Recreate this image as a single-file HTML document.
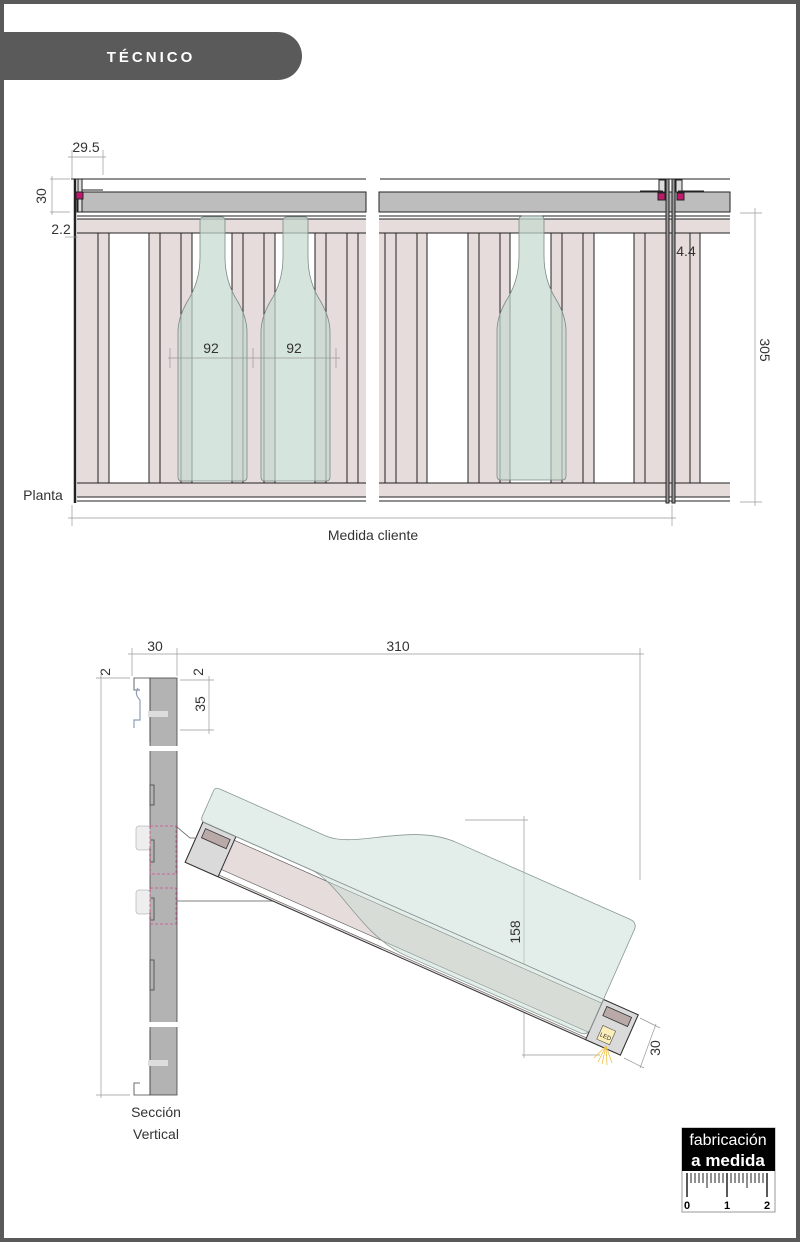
<!DOCTYPE html>
<html><head><meta charset="utf-8"><style>
html,body{margin:0;padding:0;background:#fff}
svg{display:block}
text{font-family:"Liberation Sans Narrow","Liberation Sans",sans-serif;fill:#333}
</style></head><body>
<svg width="800" height="1242" viewBox="0 0 800 1242" xmlns="http://www.w3.org/2000/svg">
<rect x="2" y="2" width="796" height="1238" fill="#fff" stroke="#5a5a5a" stroke-width="4"/>
<path d="M0 32 H278 A24 24 0 0 1 278 80 H0 Z" fill="#5a5a5a"/>
<text x="151" y="62" font-weight="bold" font-size="15" letter-spacing="3" text-anchor="middle" style="fill:#fff;font-family:'Liberation Sans',sans-serif">TÉCNICO</text>

<g stroke="#222" stroke-width="1">
<rect x="77" y="219" width="289" height="278" fill="#e6dcdb" stroke="none"/>
<g fill="#fff" stroke="none"><rect x="109" y="233" width="40" height="250"/><rect x="192" y="233" width="40" height="250"/><rect x="275" y="233" width="40" height="250"/></g>
<rect x="379" y="219" width="351" height="278" fill="#e6dcdb" stroke="none"/>
<g fill="#fff" stroke="none"><rect x="427" y="233" width="41" height="250"/><rect x="510" y="233" width="41" height="250"/><rect x="594" y="233" width="40" height="250"/><rect x="700" y="233" width="30" height="250"/></g>
<rect x="77" y="192" width="289" height="20" fill="#bdbdbd"/>
<rect x="379" y="192" width="351" height="20" fill="#bdbdbd"/>
<line x1="71" y1="179" x2="366" y2="179"/><line x1="380" y1="179" x2="730" y2="179"/>
<line x1="77" y1="216" x2="366" y2="216"/><line x1="379" y1="216" x2="730" y2="216"/>
<line x1="77" y1="219" x2="366" y2="219"/><line x1="379" y1="219" x2="730" y2="219"/>
<line x1="77" y1="233" x2="366" y2="233"/><line x1="379" y1="233" x2="730" y2="233"/>
<line x1="77" y1="483" x2="366" y2="483"/><line x1="379" y1="483" x2="730" y2="483"/>
<line x1="77" y1="497" x2="366" y2="497"/><line x1="379" y1="497" x2="730" y2="497"/>
<line x1="77" y1="501" x2="366" y2="501"/><line x1="379" y1="501" x2="730" y2="501"/>
<g>
<line x1="98" y1="233" x2="98" y2="483"/><line x1="109" y1="233" x2="109" y2="483"/><line x1="149" y1="233" x2="149" y2="483"/><line x1="160" y1="233" x2="160" y2="483"/><line x1="181" y1="233" x2="181" y2="483"/><line x1="192" y1="233" x2="192" y2="483"/><line x1="232" y1="233" x2="232" y2="483"/><line x1="243" y1="233" x2="243" y2="483"/><line x1="264" y1="233" x2="264" y2="483"/><line x1="275" y1="233" x2="275" y2="483"/><line x1="315" y1="233" x2="315" y2="483"/><line x1="326" y1="233" x2="326" y2="483"/><line x1="347" y1="233" x2="347" y2="483"/><line x1="358" y1="233" x2="358" y2="483"/>
<line x1="385" y1="233" x2="385" y2="483"/><line x1="396" y1="233" x2="396" y2="483"/><line x1="417" y1="233" x2="417" y2="483"/><line x1="427" y1="233" x2="427" y2="483"/><line x1="468" y1="233" x2="468" y2="483"/><line x1="479" y1="233" x2="479" y2="483"/><line x1="500" y1="233" x2="500" y2="483"/><line x1="510" y1="233" x2="510" y2="483"/><line x1="551" y1="233" x2="551" y2="483"/><line x1="562" y1="233" x2="562" y2="483"/><line x1="583" y1="233" x2="583" y2="483"/><line x1="594" y1="233" x2="594" y2="483"/><line x1="634" y1="233" x2="634" y2="483"/><line x1="645" y1="233" x2="645" y2="483"/><line x1="690" y1="233" x2="690" y2="483"/><line x1="700" y1="233" x2="700" y2="483"/>
</g>
<line x1="75" y1="179" x2="75" y2="503" stroke-width="2.5"/>
<rect x="78" y="179" width="4" height="33" fill="#ddd"/>
<rect x="76" y="192" width="7" height="7" fill="#c0186a"/>
<line x1="82" y1="190" x2="103" y2="190"/>
<rect x="666" y="179" width="3" height="324" fill="#999"/>
<rect x="672" y="179" width="3" height="324" fill="#999"/>
<rect x="659" y="180" width="6" height="12" fill="#ddd"/><rect x="676" y="180" width="6" height="12" fill="#ddd"/>
<rect x="658" y="193" width="7" height="7" fill="#c0186a"/><rect x="677" y="193" width="7" height="7" fill="#c0186a"/>
<line x1="640" y1="191" x2="663" y2="191"/><line x1="678" y1="191" x2="704" y2="191"/>
</g>
<g fill="#c5d8d0" fill-opacity="0.7" stroke="#7a8a84" stroke-width="0.8">
<path d="M204 217 H222 Q225 217 225 221 V257 Q225 282 238 302 Q247 318 247 332 V477 Q247 481 243 481 H182 Q178 481 178 477 V332 Q178 318 187 302 Q200 282 200 257 V221 Q200 217 204 217 Z"/>
<path d="M287 217 H305 Q308 217 308 221 V257 Q308 282 321 302 Q330 318 330 332 V477 Q330 481 326 481 H265 Q261 481 261 477 V332 Q261 318 270 302 Q283 282 283 257 V221 Q283 217 287 217 Z"/>
<path d="M523 216 H541 Q544 216 544 220 V256 Q544 281 557 301 Q566 317 566 331 V476 Q566 480 562 480 H501 Q497 480 497 476 V331 Q497 317 506 301 Q519 281 519 256 V220 Q519 216 523 216 Z"/>
</g>
<g stroke="#999" stroke-width="0.7">
<line x1="68" y1="157" x2="106" y2="157"/><line x1="72" y1="150" x2="72" y2="178"/><line x1="103" y1="150" x2="103" y2="175"/>
<line x1="50" y1="179" x2="70" y2="179"/><line x1="50" y1="212" x2="70" y2="212"/><line x1="52" y1="176" x2="52" y2="215"/>
<line x1="65" y1="237" x2="78" y2="237"/>
<line x1="168" y1="358" x2="340" y2="358"/><line x1="170" y1="348" x2="170" y2="368"/><line x1="253" y1="348" x2="253" y2="368"/><line x1="336" y1="348" x2="336" y2="368"/>
<line x1="68" y1="518" x2="676" y2="518"/><line x1="72" y1="505" x2="72" y2="526"/><line x1="672" y1="505" x2="672" y2="526"/>
<line x1="740" y1="213" x2="762" y2="213"/><line x1="740" y1="502" x2="762" y2="502"/><line x1="755" y1="208" x2="755" y2="506"/>
</g>
<text x="86" y="152" font-size="14" text-anchor="middle">29.5</text>
<text transform="translate(46,196) rotate(-90)" font-size="14" text-anchor="middle">30</text>
<text x="61" y="234" font-size="14" text-anchor="middle">2.2</text>
<text x="211" y="353" font-size="14" text-anchor="middle">92</text>
<text x="294" y="353" font-size="14" text-anchor="middle">92</text>
<text x="686" y="256" font-size="14" text-anchor="middle">4.4</text>
<text transform="translate(760,350) rotate(90)" font-size="14" text-anchor="middle">305</text>
<text x="43" y="500" font-size="14" text-anchor="middle">Planta</text>
<text x="373" y="540" font-size="14" text-anchor="middle">Medida cliente</text>

<g stroke="#999" stroke-width="0.7">
<line x1="128" y1="654" x2="644" y2="654"/><line x1="132" y1="648" x2="132" y2="676"/><line x1="177" y1="648" x2="177" y2="676"/><line x1="640" y1="648" x2="640" y2="880"/>
<line x1="101" y1="674" x2="101" y2="1098"/><line x1="96" y1="678" x2="130" y2="678"/><line x1="96" y1="1095" x2="130" y2="1095"/>
<line x1="180" y1="680" x2="214" y2="680"/><line x1="180" y1="730" x2="214" y2="730"/><line x1="209" y1="676" x2="209" y2="734"/>
<line x1="465" y1="820" x2="528" y2="820"/><line x1="524" y1="816" x2="524" y2="1058"/><line x1="522" y1="1055" x2="600" y2="1055"/>
<line x1="640" y1="1018" x2="660" y2="1028"/><line x1="624" y1="1058" x2="644" y2="1068"/><line x1="656" y1="1024" x2="640" y2="1068"/>
</g>
<rect x="150" y="678" width="27" height="417" fill="#b3b3b3" stroke="#444" stroke-width="0.8"/>
<rect x="148" y="746" width="32" height="5" fill="#fff"/>
<rect x="148" y="1022" width="32" height="5" fill="#fff"/>
<g stroke="#444" stroke-width="0.8" fill="none">
<path d="M150 678 H134 V690 H140 M150 1095 H134 V1083 H140"/>
<path d="M150 678 V742 M150 1030 V1095"/>
<rect x="150" y="785" width="4" height="20" fill="#b3b3b3"/><rect x="150" y="840" width="4" height="22" fill="#b3b3b3"/><rect x="150" y="898" width="4" height="22" fill="#b3b3b3"/><rect x="150" y="960" width="4" height="30" fill="#b3b3b3"/>
</g>
<path d="M138 688 Q134 694 140 700 V720 H134 V728" fill="none" stroke="#8aa0b8" stroke-width="1.2"/>
<rect x="148" y="711" width="20" height="6" fill="#ddd"/><rect x="148" y="1060" width="20" height="6" fill="#ddd"/>
<g fill="#eee" stroke="#bbb" stroke-width="0.8"><rect x="136" y="826" width="14" height="24" rx="3"/><rect x="136" y="890" width="14" height="24" rx="3"/></g>
<g fill="none" stroke="#d64a8a" stroke-width="0.8" stroke-dasharray="3 2"><rect x="150" y="826" width="26" height="48"/><rect x="150" y="888" width="26" height="36"/></g>
<path d="M177 827 L190 838 L195 838" fill="none" stroke="#555" stroke-width="0.8"/>
<line x1="177" y1="901" x2="300" y2="901" stroke="#555" stroke-width="0.8"/>
<g transform="translate(203,822) rotate(23.9)">
<rect x="0" y="0" width="476" height="44" fill="#e6dcdb" stroke="#333" stroke-width="1"/>
<rect x="0" y="0" width="476" height="4" fill="#fff" stroke="#444" stroke-width="0.6"/>
<rect x="28" y="36" width="420" height="6" fill="#fff" stroke="#555" stroke-width="0.6"/>
<rect x="0" y="0" width="36" height="44" fill="#dadada" stroke="#333" stroke-width="1"/>
<rect x="5" y="5" width="27" height="10" fill="#b9aaa8" stroke="#333" stroke-width="0.8"/>
<rect x="438" y="0" width="38" height="44" fill="#dadada" stroke="#333" stroke-width="1"/>
<rect x="444" y="5" width="27" height="10" fill="#b9aaa8" stroke="#333" stroke-width="0.8"/>
<rect x="448" y="24" width="14" height="15" fill="#fbeeb8" stroke="#555" stroke-width="0.6"/>
<text x="455" y="35" font-size="6" text-anchor="middle">LED</text>
<path d="M-3 -33 Q-3 -37 2 -37 H118 C150 -37 190 -84 240 -84 H430 Q438 -84 438 -76 V32 Q438 40 430 40 H240 C190 40 150 0 118 0 H2 Q-3 0 -3 -5 Z" fill="#c8dbd3" fill-opacity="0.5" stroke="#8a9a94" stroke-width="0.8"/>
</g>
<g stroke="#f0c040" stroke-width="0.8"><line x1="606" y1="1046" x2="598" y2="1062"/><line x1="606" y1="1046" x2="602" y2="1064"/><line x1="606" y1="1046" x2="607" y2="1065"/><line x1="606" y1="1046" x2="612" y2="1063"/><line x1="606" y1="1046" x2="594" y2="1058"/></g>
<text x="155" y="651" font-size="14" text-anchor="middle">30</text>
<text x="398" y="651" font-size="14" text-anchor="middle">310</text>
<text transform="translate(110,672) rotate(-90)" font-size="14" text-anchor="middle">2</text>
<text transform="translate(203,672) rotate(-90)" font-size="14" text-anchor="middle">2</text>
<text transform="translate(205,704) rotate(-90)" font-size="14" text-anchor="middle">35</text>
<text transform="translate(520,932) rotate(-90)" font-size="14" text-anchor="middle">158</text>
<text transform="translate(660,1048) rotate(-90)" font-size="14" text-anchor="middle">30</text>
<text x="156" y="1117" font-size="14" text-anchor="middle">Sección</text>
<text x="156" y="1139" font-size="14" text-anchor="middle">Vertical</text>

<rect x="682" y="1128" width="93" height="84" fill="#fff" stroke="#999" stroke-width="1"/>
<rect x="682" y="1128" width="93" height="43" fill="#000"/>
<text x="728" y="1145" font-size="16" text-anchor="middle" style="fill:#fff">fabricación</text>
<text x="728" y="1166" font-size="17" font-weight="bold" text-anchor="middle" style="fill:#fff">a medida</text>
<g stroke="#222" stroke-width="1">
<line x1="687" y1="1173" x2="687" y2="1197" stroke-width="1.5"/><line x1="727" y1="1173" x2="727" y2="1197" stroke-width="1.5"/><line x1="767" y1="1173" x2="767" y2="1197" stroke-width="1.5"/>
<line x1="691" y1="1173" x2="691" y2="1183"/><line x1="695" y1="1173" x2="695" y2="1183"/><line x1="699" y1="1173" x2="699" y2="1183"/><line x1="703" y1="1173" x2="703" y2="1183"/><line x1="707" y1="1173" x2="707" y2="1188"/><line x1="711" y1="1173" x2="711" y2="1183"/><line x1="715" y1="1173" x2="715" y2="1183"/><line x1="719" y1="1173" x2="719" y2="1183"/><line x1="723" y1="1173" x2="723" y2="1183"/>
<line x1="731" y1="1173" x2="731" y2="1183"/><line x1="735" y1="1173" x2="735" y2="1183"/><line x1="739" y1="1173" x2="739" y2="1183"/><line x1="743" y1="1173" x2="743" y2="1183"/><line x1="747" y1="1173" x2="747" y2="1188"/><line x1="751" y1="1173" x2="751" y2="1183"/><line x1="755" y1="1173" x2="755" y2="1183"/><line x1="759" y1="1173" x2="759" y2="1183"/><line x1="763" y1="1173" x2="763" y2="1183"/>
</g>
<text x="687" y="1209" font-size="11" font-weight="bold" text-anchor="middle" style="fill:#000">0</text>
<text x="727" y="1209" font-size="11" font-weight="bold" text-anchor="middle" style="fill:#000">1</text>
<text x="767" y="1209" font-size="11" font-weight="bold" text-anchor="middle" style="fill:#000">2</text>
</svg>
</body></html>
